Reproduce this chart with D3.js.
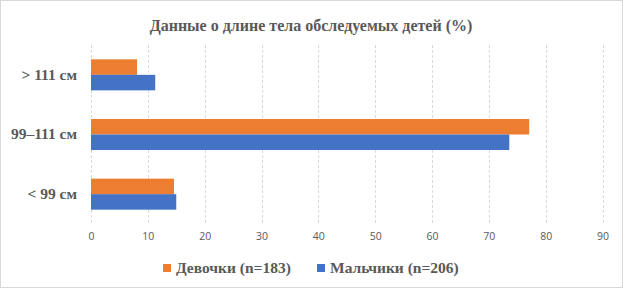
<!DOCTYPE html>
<html lang="ru">
<head>
<meta charset="utf-8">
<style>
    body { margin: 0; background: #fff; }
</style>
</head>
<body>
    <script type="text/javascript" src="https://d3js.org/d3.v7.min.js"></script>

    <svg width="623" height="288"></svg>

    <script>
        // categories from top to bottom
        var categories = ["> 111 см", "99–111 см", "< 99 см"];
        var girls = [8.1, 77.1, 14.6];   // Девочки (n=183)
        var boys = [11.3, 73.6, 15.0];   // Мальчики (n=206)
        var seriesNames = ["Девочки (n=183)", "Мальчики (n=206)"];
        var xTicks = [0, 10, 20, 30, 40, 50, 60, 70, 80, 90];

        var colors = ["#ED7D31", "#4472C4"];
        var serif = "'Liberation Serif', 'Times New Roman', serif";

        var svg = d3.select("svg");

        svg.append("rect")
            .attr("x", 0.5).attr("y", 0.5)
            .attr("width", 622).attr("height", 287)
            .attr("fill", "#fff")
            .attr("stroke", "#d9d9d9");

        svg.append("text")
            .attr("x", 311)
            .attr("y", 31)
            .attr("text-anchor", "middle")
            .attr("font-family", serif)
            .attr("font-weight", "bold")
            .attr("font-size", "16px")
            .attr("fill", "#595959")
            .text("Данные о длине тела обследуемых детей (%)");

        var plotLeft = 91, plotRight = 602.5, plotTop = 45, plotBottom = 224;

        var x = d3.scaleLinear().domain([0, 90]).range([plotLeft, plotRight]);
        var y = d3.scaleBand().domain(categories).range([plotTop, plotBottom]).paddingInner(0.48).paddingOuter(0.24);
        var sub = d3.scaleBand().domain([0, 1]).range([0, y.bandwidth()]);

        // gridlines
        svg.append("g")
            .selectAll("line")
            .data(xTicks)
            .enter().append("line")
            .attr("x1", function (d) { return Math.round(x(d)) + 0.5; })
            .attr("x2", function (d) { return Math.round(x(d)) + 0.5; })
            .attr("y1", plotTop)
            .attr("y2", plotBottom)
            .attr("stroke", "#d9d9d9")
            .attr("stroke-dasharray", "3,2");

        // x axis labels
        var xAxis = svg.append("g")
            .attr("transform", "translate(0," + plotBottom + ")")
            .call(d3.axisBottom(x).tickValues(xTicks).tickSize(0).tickPadding(9));
        xAxis.select(".domain").remove();
        xAxis.selectAll("text")
            .attr("font-family", "'Open Sans', 'Liberation Sans', sans-serif")
            .attr("font-size", "10.5px")
            .attr("fill", "#595959");

        // y axis labels
        var yAxis = svg.append("g")
            .attr("transform", "translate(" + (plotLeft - 14) + ",0)")
            .call(d3.axisLeft(y).tickSize(0).tickPadding(0));
        yAxis.select(".domain").remove();
        yAxis.selectAll("text")
            .attr("font-family", serif)
            .attr("font-weight", "bold")
            .attr("font-size", "15.5px")
            .attr("fill", "#595959");

        var rows = categories.map(function (c, i) {
            return { cat: c, values: [girls[i], boys[i]] };
        });

        var groups = svg.append("g")
            .selectAll("g")
            .data(rows)
            .enter().append("g")
            .attr("transform", function (d) { return "translate(0," + y(d.cat) + ")"; });

        groups.selectAll("rect")
            .data(function (d) { return d.values.map(function (v, k) { return { k: k, v: v }; }); })
            .enter().append("rect")
            .attr("x", x(0))
            .attr("y", function (d) { return sub(d.k); })
            .attr("width", function (d) { return x(d.v) - x(0); })
            .attr("height", sub.bandwidth())
            .attr("fill", function (d) { return colors[d.k]; });

        // legend
        var legendX = [163, 317];
        var legend = svg.append("g")
            .selectAll("g")
            .data(seriesNames)
            .enter().append("g")
            .attr("transform", function (d, i) { return "translate(" + legendX[i] + ",268)"; });

        legend.append("rect")
            .attr("x", 0).attr("y", -4)
            .attr("width", 8).attr("height", 8)
            .attr("fill", function (d, i) { return colors[i]; });

        legend.append("text")
            .attr("x", 13)
            .attr("y", 5)
            .attr("font-family", serif)
            .attr("font-weight", "bold")
            .attr("font-size", "15.5px")
            .attr("fill", "#595959")
            .text(function (d) { return d; });
    </script>
</body>
</html>
